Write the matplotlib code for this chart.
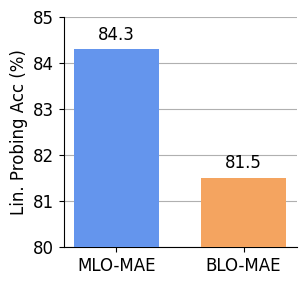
import matplotlib
matplotlib.use("Agg")
import matplotlib.pyplot as plt

methods = ["MLO-MAE", "BLO-MAE"]
accuracy = [84.3, 81.5]
bar_colors = ["#6495ED", "#F4A460"]

fig = plt.figure(figsize=(3.06, 2.85), dpi=100)
ax = fig.add_axes([64 / 306, 38 / 285, 233 / 306, 230 / 285])

xs = range(len(methods))
bars = ax.bar(xs, accuracy, width=0.67, color=bar_colors, zorder=3)
for b, v in zip(bars, accuracy):
    ax.text(b.get_x() + b.get_width() / 2, v + 0.12, f"{v}",
            ha="center", va="bottom", fontsize=12)

ax.set_ylim(80, 85)
ax.set_xlim(-0.41, 1.42)
ax.set_xticks(list(xs))
ax.set_xticklabels(methods, fontsize=12)
ax.tick_params(axis="y", labelsize=12)
ax.set_ylabel("Lin. Probing Acc (%)", fontsize=12)
ax.yaxis.grid(True, color="#b0b0b0", linewidth=0.8, zorder=0)
ax.spines["top"].set_visible(False)
ax.spines["right"].set_visible(False)

fig.savefig("out.png", dpi=100)
